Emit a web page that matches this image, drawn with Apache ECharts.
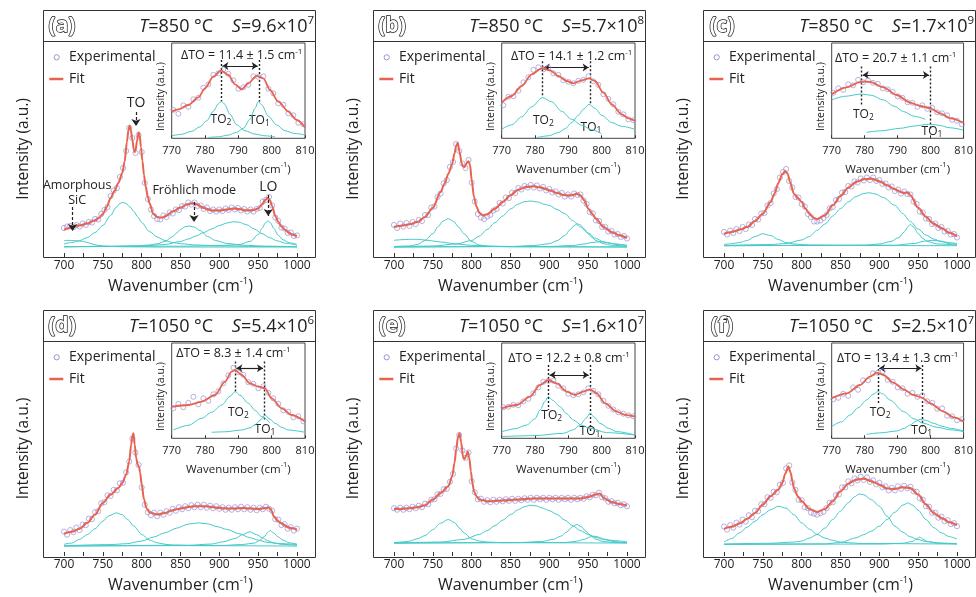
<!DOCTYPE html>
<html><head><meta charset="utf-8">
<script src="https://cdn.jsdelivr.net/npm/echarts@6/dist/echarts.min.js"></script>
<style>html,body{margin:0;padding:0;background:#fff}#c{width:976px;height:597px}</style>
</head><body><div id="c"></div>
<script>
// ---------------- DATA ----------------
const LETTERS = ['a','b','c','d','e','f'];
const TEMPS = ['850','850','850','1050','1050','1050'];
const S_MANT = ['9.6','5.7','1.7','5.4','1.6','2.5'];
const S_EXP = ['7','8','9','6','7','7'];
const DELTA_TO = ['11.4 ± 1.5','14.1 ± 1.2','20.7 ± 1.1','8.3 ± 1.4','12.2 ± 0.8','13.4 ± 1.3'];
const TO2_POS = [784.8, 782.2, 779, 789, 784, 784];
const TO1_POS = [796.2, 796.5, 799.9, 797.8, 796.5, 797.6];

// experimental points (main), wavenumber grid
const EXP_X = [700,704,708,712,716,720,724,728,732,736,740,744,748,752,756,760,764,768,772,776,780,784,788,792,796,800,804,808,812,816,820,824,828,832,836,840,844,848,852,856,860,864,868,872,876,880,884,888,892,896,900,904,908,912,916,920,924,928,932,936,940,944,948,952,956,960,964,968,972,976,980,984,988,992,996,1000];
const EXP_A = [29,30.5,31,29.8,32,30.5,33.5,32,35,34.5, 38,37.5,43,47,50,61,66.5,69,80,89, 106,129,119,104,122,105,74,58,47.5,41, 38,37.5,41.5,40,44.5,43.5,47.5,47,51,50.5, 54.5,52.5,54.5,51,51.5,48,49.5,46,47.5,45.5, 47.5,46,48.5,47,49.5,47.5,49,46.5,48,45.5, 47.5,45.5,48,49,55.5,57,60,51.5,39.5,36, 29.5,28.5,24,24.5,21,21.5];
const EXP_B = [32,29,33.5,30.5,34,31,35,33,37,36, 42,42,49.5,50.5,60,63.5,73.5,77,90,95, 113,106,93.5,89,97,74.5,55.5,43,39.5,38, 40.5,42,46.5,48,54,53.5,59.5,59,64.5,64, 69,67.5,71,69.5,72,69.5,71.5,68.5,70,66.5, 68,64.5,65.5,62.5,64,60.5,62.5,60.5,63.5,62, 62.5,56.5,53,45,43.5,36.5,36,30,30,25.5, 26,22.5,23,20,21,18.5];
const EXP_C = [25,22.5,26.5,24,28,26,30,28,32.5,32, 38,37.5,43.5,44,51.5,54,63.5,68,79.5,85, 88,76,69.5,60,59.5,53,50.5,43,40,35.5, 35.5,36.5,39,42,48.5,50,57,58,64.5,65, 71,70.5,75.5,74.5,78.5,76.5,79.5,77,79.5,76, 77,73,73.5,69.5,70.5,66,67.5,63.5,65.5,63, 62.5,55.5,53,45.5,44.5,38.5,38,33,33.5,29, 30,25.5,26,22.5,23,19.5];
const EXP_D = [24.5,21.5,26,24,28.5,26,31.5,31,37.5,37, 44,45,53,54,61,60.5,66.5,66,73,73.5, 84,95,118,104,91.5,69,51.5,44,41,43.5, 40,43.5,41.5,45,43.5,47.5,45.5,49,47,50, 48,51,49,51.5,49,51.5,48.5,50.5,48,50, 47.5,49,46.5,48.5,46.5,49,47,49.5,47,49, 46.5,48.5,46,48.5,47,49.5,47.5,45.5,37,36.5, 31,32,27.5,29,25.5,27.5];
const EXP_E = [48,46.5,48.5,46.5,48.5,47,49.5,48,50.5,49, 52.5,52,56.5,57,62,62.5,67,67.5,74.5,82.5, 108,121.5,106,98.5,104,75,64,57,57.5,54.5, 56,54,56.5,54.5,56.5,55,57,55.5,57.5,55.5, 57.5,56,58,56.5,58.5,56.5,58.5,57,58.5,56.5, 58.5,57,58.5,56.5,58.5,57,58.5,56.5,58.5,57, 58.5,57.5,60,59,61.5,61,63.5,59,58,54.5, 55,53,53.5,51,52,50];
const EXP_F = [29.5,26.5,31,28.5,33.5,31.5,36.5,34.5,41,39, 45.5,45,52,52,59,58.5,64.5,64,71.5,73.5, 88,91,74,66.5,56.5,56,49,48,43.5,42.5, 41.5,43,44.5,48,53.5,54,61,62,69,69, 75,73,78,76,79.5,76.5,79,74.5,76,72, 73.5,69,70,66,68.5,66,70,67.5,70.5,68, 69.5,65,64.5,58,56.5,50,49.5,43.5,43.5,38.5, 39.5,35,36,32,33,30];

// fitted curves (main)
const FIT_A = [[700,27.3],[705,28.5],[710,30],[715,31],[720,31.5],[730,33.5],[740,36.7],[745,39],[750,43],[755,50],[760,59],[765,66],[770,74],[775,84],[778,95],[781,115],[783,127],[784.5,131.5],[786,127],[788,117],[790,107],[791,105],[792,106],[794,116],[796,124.5],[797.5,122],[799,110],[801,96],[803,82],[805,71],[808,60],[810,54],[815,43],[820,40],[825,39.3],[830,40.5],[840,45.5],[850,49.5],[860,53],[866,53.7],[872,52.3],[880,49],[890,46.5],[900,46.5],[910,47.5],[918,48.5],[925,48],[935,46.5],[943,46.8],[950,48.5],[955,52.5],[959,57],[962.6,59],[965,57],[968,51],[972,41],[976,35],[980,30.5],[985,27],[990,24],[995,22],[1000,20.7]];
const FIT_B = [[700,30],[710,31.3],[720,32.7],[730,35],[740,40],[750,49.3],[760,65],[765,73.3],[770,83.3],[775,93.3],[778,104],[780,111],[782,114],[784.5,105],[787,94],[789,90.5],[791,90],[793.5,94],[796,95.7],[798,91.7],[800,77],[803,60],[806,50.7],[810,44],[815,41.7],[820,42.7],[830,48.3],[840,55],[850,61.7],[860,67.3],[870,70],[880,70.7],[890,69.3],[900,66.7],[910,64],[920,61.7],[928,61.6],[935,63.3],[940,61.7],[945,56.7],[950,48.5],[955,43.3],[960,38.3],[970,30],[980,25],[990,21.7],[1000,19]];
const FIT_C = [[700,23.3],[710,25],[720,27.3],[730,30],[740,36],[750,43.3],[760,55],[765,63.3],[770,74],[775,82.7],[779,86],[782,83.3],[785,75],[790,63.3],[795,59],[800,55],[805,48.3],[810,43.3],[815,39.3],[820,38],[830,41.7],[840,51.7],[850,61],[860,69.3],[870,75],[880,77.7],[890,78.3],[900,75.7],[910,71.7],[920,67.7],[930,64.3],[937,64.3],[940,61.7],[950,49.3],[960,40],[970,33.3],[980,29],[990,24.3],[1000,20.7]];
const FIT_D = [[700,22.3],[710,24.3],[720,27.3],[730,33.3],[740,41.7],[750,53.3],[760,61.7],[770,68.3],[775,73.3],[780,81.7],[784,95],[786.5,112],[788,120.7],[789.5,123.3],[791,112],[793,98],[795,91.5],[796.5,90],[798,84],[800,72],[803,57],[806,48.3],[810,44],[820,41.7],[830,43.3],[840,46],[850,47.7],[860,49.3],[870,50],[880,50],[890,49.3],[900,48.3],[910,47.7],[920,47.7],[930,48.3],[940,47.7],[950,47.3],[960,48.3],[964,48.6],[967,46],[970,40],[975,35.5],[980,32.7],[990,28.3],[1000,26.7]];
const FIT_E = [[700,47.3],[710,47.3],[720,48],[730,49],[740,51],[750,56.7],[760,63.3],[770,70],[775,80],[778,94],[780,106.7],[782.5,120],[784.5,123.3],[786.5,114],[789,99],[791,97.5],[793,101],[795,105],[797,98.3],[799,85],[801,73],[803,65],[806,60],[810,56.7],[820,55],[840,55.7],[860,56.7],[880,57.7],[900,57.7],[920,57.7],[940,57.7],[950,59.3],[960,61.7],[965,62.7],[970,58.3],[980,54.3],[990,52.3],[1000,50.7]];
const FIT_F = [[700,27.3],[710,29.3],[720,32.7],[730,37.3],[740,43.3],[750,51.7],[760,60],[770,66.7],[775,73.3],[779,83],[783,90],[786,83.3],[788,75],[790,68.3],[795,60],[800,55],[810,47.3],[820,44.3],[830,47.3],[840,55],[850,65],[860,72.7],[870,76.7],[880,77.7],[890,75],[900,71.7],[910,67.7],[920,67.3],[930,69],[940,68.3],[950,61.7],[960,51.7],[970,43.3],[980,38.3],[990,34],[1000,31]];

// fitted components (main)
const A_P710 = [[700,16.3],[705,16.6],[710,16.5],[715,16.3],[720,16],[725,15.5],[730,14.5],[735,13.3],[740,12.3],[745,11.5],[750,11],[760,10.5],[780,10.2],[820,10],[1000,10]];
const A_P775 = [[700,13],[710,14.5],[720,16.3],[730,19.5],[740,24.5],[750,31.5],[760,41.5],[767,49.5],[772,53.5],[776,54.7],[780,53.5],[785,50],[790,45.5],[795,40],[800,34.5],[810,25.5],[820,20],[830,16.5],[840,14.5],[850,13.3],[870,12],[900,11.2],[950,10.6],[1000,10.3]];
const A_P862 = [[700,10.2],[760,10.5],[790,11],[810,12],[820,13.3],[830,15.5],[840,20.5],[845,24],[850,27.5],[856,30.3],[862,31],[868,29.8],[875,26.5],[885,20.5],[895,16.5],[910,13.5],[930,11.8],[960,10.8],[1000,10.3]];
const A_P918 = [[700,10.3],[800,11],[830,12.5],[850,15.5],[860,18],[870,21],[880,24.5],[890,28],[900,31.5],[910,34],[918,35.3],[925,34.8],[935,32.3],[945,28],[955,23.3],[965,19.2],[975,16],[985,13.8],[1000,12]];
const A_P963 = [[700,10.3],[850,10.8],[900,11.4],[925,12.4],[940,15.7],[950,22.4],[955,28.6],[959,33.8],[962.6,36.3],[966,34],[970,28.8],[976,21.6],[982,17.2],[990,14.2],[1000,12.4]];
const B_P720 = [[700,16.7],[710,17.3],[720,17.7],[730,17.7],[740,17],[750,16],[760,15],[780,13],[800,11.7],[830,10.7],[870,10.3],[1000,10]];
const B_P770 = [[700,10.5],[720,11],[730,12.5],[740,16.5],[750,23.3],[757,30.5],[763,36],[770,38.3],[777,35.5],[783,30],[790,23.3],[800,15.5],[810,12],[820,10.8],[850,10.2],[1000,10]];
const B_P876 = [[700,10.2],[750,11],[780,13],[800,16.5],[810,21],[820,27.5],[830,34.5],[840,41],[850,48],[860,53],[868,55.3],[876,56],[885,55],[895,52.5],[900,51.5],[910,47.5],[920,43.3],[930,36.5],[940,30],[950,24],[960,18.5],[970,15],[980,13.3],[990,12.3],[1000,11.7]];
const B_P936 = [[700,10],[850,10.5],[880,11.5],[900,13.3],[910,16.3],[920,21.5],[927,27.5],[932,31.5],[936,33.3],[940,32],[945,28],[950,23.3],[955,19.5],[960,16.5],[970,13.3],[980,11.7],[1000,10.7]];
const B_P965 = [[700,10],[900,10.5],[930,11.5],[945,13],[955,14.5],[965,15.3],[975,14.5],[985,13],[1000,11.5]];
const C_P750 = [[700,12.5],[710,13.3],[720,14.5],[730,16.5],[740,20.5],[750,23.3],[760,21.5],[770,17.5],[780,14.5],[790,13],[810,12],[850,11.5],[1000,11.3]];
const C_P887 = [[700,11.5],[760,12.5],[780,13.5],[800,17],[810,20.5],[820,26.7],[830,33],[840,41],[850,48.3],[860,55],[870,60.5],[880,63.5],[887,64.3],[895,63],[905,59.5],[920,51.7],[930,43.5],[940,35.5],[950,28],[960,22],[970,18],[980,15.3],[990,13.5],[1000,12.5]];
const C_P940 = [[700,11.3],[880,11.8],[900,13],[915,15.5],[925,19.5],[932,25],[937,30.5],[940,32.7],[944,30],[950,23.5],[956,18.5],[962,15.5],[975,13],[1000,12]];
const C_P968 = [[700,11.3],[920,11.8],[945,13.5],[958,15.8],[968,16.7],[978,16],[990,14.3],[1000,13.5]];
const D_P768 = [[700,11.7],[710,13],[720,16.7],[730,21.5],[740,27.5],[750,35],[758,40.5],[767.6,43.3],[775,41.5],[782,36.5],[790,30],[800,21.7],[810,16],[820,13.3],[830,11.8],[840,11],[870,10.4],[1000,10]];
const D_P873 = [[700,10.3],[760,11.5],[780,12.3],[800,15],[815,19],[830,23.3],[845,28],[860,32],[873,33.3],[885,32.3],[897,29.5],[910,26.7],[925,22.5],[940,18.3],[950,16],[960,14],[975,12.5],[1000,11.7]];
const D_P939 = [[700,10],[860,10.8],[890,12],[905,14.3],[920,17.5],[930,21.5],[939,24.3],[948,21.5],[955,18.5],[962,15.5],[970,13.3],[980,11.7],[1000,10.7]];
const D_P966 = [[700,10],[900,10.5],[930,11.5],[945,13],[952,15.5],[958,19.5],[962,23.5],[965.6,25.7],[970,23],[976,19],[982,16],[990,13.3],[1000,11.7]];
const E_P770 = [[700,13.3],[710,14],[720,15],[730,17.3],[740,20.5],[750,26.5],[760,33],[770,36.7],[778,33.5],[785,27.5],[790,23.3],[800,17.3],[810,15],[820,14],[840,13.4],[1000,13]];
const E_P875 = [[700,13],[760,14],[790,16.7],[810,21.7],[820,25.5],[830,30.5],[840,36],[850,41.5],[860,46.5],[868,49.5],[875,51],[883,50.3],[892,48],[900,45.5],[910,41.7],[920,36],[930,30.5],[940,25.5],[950,21.7],[960,18.5],[970,16.7],[985,15.3],[1000,14.3]];
const E_P936 = [[700,13],[860,13.5],[890,14.5],[905,16.7],[915,20],[922,24],[930,29.5],[935.5,31.7],[941,29.5],[947,25],[952,21],[960,16.7],[970,14.5],[985,13.5],[1000,13.2]];
const E_P957 = [[700,13],[920,13.5],[935,14.8],[945,16.7],[952,19],[957,20],[963,19],[970,17],[980,15],[990,14],[1000,13.5]];
const F_P770 = [[700,14],[710,17.5],[720,23.3],[730,29],[740,35],[750,41.5],[760,46.5],[770,50],[780,48],[790,41.5],[800,33.3],[810,27],[820,21.7],[830,18],[840,15.7],[850,14],[860,13.3],[880,12.5],[1000,12]];
const F_P874 = [[700,12],[760,12.8],[790,14],[800,15],[810,18],[820,21.7],[830,28],[840,36.7],[850,45],[860,53.5],[868,59.5],[874,62.3],[880,61.5],[890,56.5],[900,50],[910,40],[920,30],[930,24],[940,19.3],[950,16.5],[960,14.5],[980,13],[1000,12.3]];
const F_P937 = [[700,11.7],[830,12.2],[850,13.5],[870,18.3],[880,21.5],[890,25],[900,30],[910,36.7],[920,44],[930,51],[936.6,53.3],[943,51],[950,46],[960,36.7],[970,28.5],[980,23.3],[990,19.5],[1000,17]];
const F_P952 = [[700,11.7],[900,12],[930,12.8],[942,14.5],[948,17],[952,19],[956,17],[962,14.5],[975,12.8],[1000,12.2]];

// insets
const IEXP_X = [770.5,772,773.5,775,776.5,778,779.5,781,782.5,784,785.5,787,788.5,790,791.5,793,794.5,796,797.5,799,800.5,802,803.5,805,806.5,808,809.5];
const IEXP_A = [28.5,24.5,33,31.5,39,40.5,50.5,54,63.5,65, 69,64.5,58,49.5,51,53.5,62,61.5,62,49.5, 45,35,33.5,25,23,15.5,14];
const IEXP_B = [33,41.5,42,47.5,56,61,68.5,71,69,70.5, 65,63.5,58,56.5,55,57.5,58.5,62,57,53.5, 44,39.5,34,26.5,24,19,18];
const IEXP_C = [45.5,50,48.5,54,53,58.5,56,58,55.5,54.5, 50,49,46.5,42,40.5,36,35.5,31.5,33,29.5, 30.5,26,25,23,18.5,17.5,14];
const IEXP_D = [30,34.5,31,35.5,41.5,34,40,37.5,44,47, 55,63,70.5,66,63.5,56,54.5,50,52,45.5, 40,34.5,28,26.5,21,22,17];
const IEXP_E = [31,31.5,33.5,33,37,39.5,45,51,56.5,57.5, 57.5,52.5,50,44.5,43,44,46,50,47.5,44, 37.5,32.5,29,26,24.5,23,22];
const IEXP_F = [39,40.5,44.5,42.5,51,48.5,58,58,65,65.5, 67,58.5,56.5,51,50,44.5,45.5,41.5,43,37, 35.5,29.5,30,22.5,22,18,19];

const IFIT_A = [[770,26.7],[772,29],[775,33.3],[778,41],[780,50],[782.5,61.7],[784.8,67.7],[787,63.3],[789,54],[791,49],[793,55],[795.5,62.5],[797.5,60],[799.5,48.3],[802,36.7],[805,26.7],[807.5,18.3],[810,11]];
const IFIT_B = [[770,35.7],[773,42.3],[776,52.3],[779,64],[782,70],[784.5,68],[787,62.3],[789.5,57.3],[791.5,55],[794,58],[796.2,60],[798,57.3],[800.5,45.7],[803,34],[806,24],[808,20],[810,17.3]];
const IFIT_C = [[770,44],[774.5,51],[778.6,56.2],[780,56.7],[781.6,56.5],[785.7,51],[789.7,43.3],[793.8,35.7],[796.8,32.3],[799.9,30],[802.9,25],[806,20],[809.8,15.7]];
const IFIT_D = [[770,31.5],[775,33.3],[779,36.7],[783,43.3],[786,56.7],[788,66.7],[789,68.3],[791,63.3],[793.5,55],[796,51.7],[798,50],[800,40],[803,30],[806,23.3],[810,16.7]];
const IFIT_E = [[770,30],[774.5,33.3],[778.5,41.7],[781.5,53.3],[784,58.3],[786.5,55],[789.5,46.7],[792,43.3],[794.5,46.7],[796.5,49],[798.5,45],[801,35],[804.5,26.7],[807,23.5],[810,21.7]];
const IFIT_F = [[770,40],[774.6,45],[778.6,53.3],[781.6,61.7],[783.7,65.7],[785.7,63.3],[788.7,55.7],[791.8,49],[794.8,43.3],[797.3,40.7],[799.9,35],[803.9,26.7],[807,21],[810,16.7]];

const ITO2_A = [[770,2.5],[773,4],[776,7],[778.5,11.5],[780.5,17.5],[782.5,27],[784,34.5],[784.8,36.7],[785.8,34.5],[787.5,24],[789.5,13.5],[792,7.5],[795,4.2],[798,2.5],[801,1.5]];
const ITO1_A = [[781,0.8],[784,1.5],[787,3.2],[789.5,6],[791.5,10],[793.5,19],[795,30],[796,36.7],[797,33.5],[799,22],[801.5,13.3],[804,7.5],[807,4.8],[810,3.3]];
const ITO2_B = [[770,9],[773,13.5],[776,21.5],[779,31.5],[782.2,40.7],[785,36.5],[788,27],[791,19],[794,13],[797,8.5],[800,4.5]];
const ITO1_B = [[780.5,0.7],[784,2.5],[787,5.7],[789,9.5],[791,15.7],[793,23],[794.5,29],[796.2,34],[798,30],[800,23],[803,15.7],[806,12],[810,9]];
const ITO2_C = [[770,38.3],[774,42],[779,44.3],[782,43],[785.7,38.3],[789,32],[791.8,26.7],[795,22],[798.4,19]];
const ITO1_C = [[780.6,6],[785,7.5],[790.8,10],[795,12.3],[799.4,14],[802,13.3],[806,10.5],[809.8,8.3]];
const ITO2_D = [[770.5,8.3],[775,13],[779,20],[782,26],[785,33.3],[787.5,42],[789,46.7],[790.5,43],[793,35],[795,28],[797,21.7],[799.5,15.5]];
const ITO1_D = [[782,6],[786,6.5],[791,8.3],[793.5,10.5],[795,13.3],[796.5,18],[798,23.3],[799.5,19],[801,15],[803,11],[805,8.3],[810,6]];
const ITO2_E = [[770,6.5],[774,9.5],[777.5,13.3],[780,19.5],[781.5,28.3],[783,37],[784,41.7],[785.3,38],[787.5,31.7],[789.5,24.5],[791.5,18.3],[794,13],[796.5,10],[801.5,5.7],[810,3.3]];
const ITO1_E = [[770,1.7],[780,2.7],[788.5,5],[791.5,8.5],[793.5,13.3],[795.3,20],[796.5,25],[797.8,21],[799.5,15],[802,10],[804.5,6.7],[810,3.3]];
const ITO2_F = [[770,11.7],[773,16.5],[775.6,23.3],[778,30.5],[780.6,38.3],[782.5,44],[784,46.7],[785.5,44.5],[787.7,38.3],[791.8,26.7],[795,19.5],[797.8,15],[802,11],[806,8.5],[810,6.7]];
const ITO1_F = [[780.6,4],[785,5.5],[789.7,7.3],[792,10],[793.8,13.3],[795.5,17],[796.8,19],[798.5,18],[800.9,15],[803.5,12],[806,10],[810,7.3]];

// ---------------- ASSEMBLY ----------------
const EXPS = [EXP_A, EXP_B, EXP_C, EXP_D, EXP_E, EXP_F];
const FITS = [FIT_A, FIT_B, FIT_C, FIT_D, FIT_E, FIT_F];
const COMPS = [[A_P710, A_P775, A_P862, A_P918, A_P963],[B_P720, B_P770, B_P876, B_P936, B_P965],[C_P750, C_P887, C_P940, C_P968],[D_P768, D_P873, D_P939, D_P966],[E_P770, E_P875, E_P936, E_P957],[F_P770, F_P874, F_P937, F_P952]];
const IEXPS = [IEXP_A, IEXP_B, IEXP_C, IEXP_D, IEXP_E, IEXP_F];
const IFITS = [IFIT_A, IFIT_B, IFIT_C, IFIT_D, IFIT_E, IFIT_F];
const ITO2S = [ITO2_A, ITO2_B, ITO2_C, ITO2_D, ITO2_E, ITO2_F];
const ITO1S = [ITO1_A, ITO1_B, ITO1_C, ITO1_D, ITO1_E, ITO1_F];

// annotation placement (data coordinates of the insets)
const DASH_TOP = [78.3, 77, 71.7, 76.7, 73.3, 73.3];
const TO2_BOTTOM = [36.7, 40.7, 31.7, 45, 28.3, 35];
const TO1_BOTTOM = [36.7, 34, 8.3, 18.3, 6.7, 11.7];
const ARROW_Y = [72.3, 70.7, 63.3, 70, 63.3, 70];
const DTO_POS = [[791,83.3],[791,82.3],[789.4,80],[788.5,85],[790.2,80],[790,80]];
const TO2_LABEL = [[784.8,19],[782.5,18],[779.6,24],[790,25.5],[785,22.5],[784.7,25.5]];
const TO1_LABEL = [[796.3,17.5],[796.8,11],[800.4,6.5],[798,9],[796.5,6.5],[797.3,7.5]];
// annotations of panel (a) main plot
const A_ARROWS = [[792.7,145,131],[711,50,26],[867.4,55,35],[963,62,41]];
const A_LABELS = [['TO',792.7,153.5,14],['Amorphous\nSiC',717,64.2,12.5],['Fröhlich mode',867.7,66.3,12.5],['LO',963,70.3,14]];

const ORIGINS = [[43,10],[373,10],[703,10],[43,310],[373,310],[703,310]];
const FONT = "'Open Sans', 'Noto Sans', sans-serif";
const INK = '#222';
const FRAME = '#333';
const COL_FIT = '#e8634f';
const COL_COMP = '#45c9c9';
const COL_EXP = '#9c92d2';

const supRich = (fs) => ({sup:{fontSize:fs, verticalAlign:'top', lineHeight:fs, fontFamily:FONT, color:INK}});
const plainNum = (v) => String(v);

const grid=[], xAxis=[], yAxis=[], series=[], graphic=[];

LETTERS.forEach((L,i)=>{
  const [ox,oy] = ORIGINS[i];
  const gm = i*2, gi = i*2+1;
  grid.push({left:ox+21, top:oy+31, width:233, height:216});
  grid.push({left:ox+128.7, top:oy+33, width:133.3, height:95.3, show:true, borderColor:'#444', borderWidth:1, backgroundColor:'#fff'});
  xAxis.push({gridIndex:gm, type:'value', min:700, max:1000, interval:50,
    axisLine:{show:false}, splitLine:{show:false},
    axisTick:{show:true, inside:true, length:4, lineStyle:{color:FRAME}},
    minorTick:{show:true, splitNumber:2, length:4, lineStyle:{color:FRAME}},
    axisLabel:{fontSize:12, color:INK, margin:3, fontFamily:FONT, formatter:plainNum},
    name:'Wavenumber (cm{sup|-1})', nameLocation:'middle', nameGap:19,
    nameTextStyle:{fontSize:16, color:INK, fontFamily:FONT, lineHeight:21, rich:supRich(9.5)}});
  yAxis.push({gridIndex:gm, type:'value', min:0, max:216,
    axisLine:{show:false}, axisTick:{show:false}, axisLabel:{show:false}, splitLine:{show:false},
    name:'Intensity (a.u.)', nameLocation:'middle', nameGap:32,
    nameTextStyle:{fontSize:15.5, color:INK, fontFamily:FONT}});
  xAxis.push({gridIndex:gi, type:'value', min:770, max:810, interval:10,
    axisLine:{show:false}, splitLine:{show:false},
    axisTick:{show:true, inside:true, length:3, lineStyle:{color:FRAME}},
    axisLabel:{fontSize:11, color:INK, margin:7, fontFamily:FONT, formatter:plainNum},
    name:'Wavenumber (cm{sup|-1})', nameLocation:'middle', nameGap:23,
    nameTextStyle:{fontSize:11.5, color:INK, fontFamily:FONT, lineHeight:16, rich:supRich(7.5)}});
  yAxis.push({gridIndex:gi, type:'value', min:0, max:95.3,
    axisLine:{show:false}, axisTick:{show:false}, axisLabel:{show:false}, splitLine:{show:false},
    name:'Intensity (a.u.)', nameLocation:'middle', nameGap:5,
    nameTextStyle:{fontSize:10.5, color:INK, fontFamily:FONT, padding:[0,12,0,0]}});

  // main plot
  COMPS[i].forEach(c=>series.push({type:'line', xAxisIndex:gm, yAxisIndex:gm, data:c, smooth:0.3, smoothMonotone:'x', symbol:'none', lineStyle:{color:COL_COMP, width:1}, z:2, silent:true}));
  series.push({type:'scatter', xAxisIndex:gm, yAxisIndex:gm, data:EXP_X.map((x,j)=>[x,EXPS[i][j]]), symbol:'circle', symbolSize:5.2,
    itemStyle:{color:'rgba(255,255,255,0)', borderColor:COL_EXP, borderWidth:0.9, opacity:0.8}, z:3, silent:true});
  const fit = {type:'line', xAxisIndex:gm, yAxisIndex:gm, data:FITS[i], smooth:0.3, smoothMonotone:'x', symbol:'none', lineStyle:{color:COL_FIT, width:2}, z:4, silent:true};
  if (i===0){
    fit.markLine = {silent:true, symbol:['none','arrow'], symbolSize:7, label:{show:false},
      lineStyle:{type:[3,2], color:INK, width:1.2},
      data:A_ARROWS.map(a=>[{coord:[a[0],a[1]]},{coord:[a[0],a[2]]}])};
    fit.markPoint = {silent:true, symbol:'circle', symbolSize:0,
      data:A_LABELS.map(l=>({coord:[l[1],l[2]], label:{show:true, position:'inside', formatter:l[0], fontSize:l[3], color:INK, fontFamily:FONT, lineHeight:14.5}}))};
  }
  series.push(fit);

  // inset
  series.push({type:'line', xAxisIndex:gi, yAxisIndex:gi, data:ITO2S[i], smooth:0.3, smoothMonotone:'x', symbol:'none', lineStyle:{color:COL_COMP, width:1}, z:5, silent:true,
    markLine:{silent:true, symbol:'none', label:{show:false}, lineStyle:{type:[2,2], color:INK, width:1.4},
      data:[[{coord:[TO2_POS[i],DASH_TOP[i]]},{coord:[TO2_POS[i],TO2_BOTTOM[i]]}],[{coord:[TO1_POS[i],DASH_TOP[i]]},{coord:[TO1_POS[i],TO1_BOTTOM[i]]}]]}});
  series.push({type:'line', xAxisIndex:gi, yAxisIndex:gi, data:ITO1S[i], smooth:0.3, smoothMonotone:'x', symbol:'none', lineStyle:{color:COL_COMP, width:1}, z:5, silent:true,
    markLine:{silent:true, symbol:['arrow','arrow'], symbolSize:6, label:{show:false}, lineStyle:{type:'solid', color:INK, width:1.2},
      data:[[{coord:[TO2_POS[i]+0.4,ARROW_Y[i]]},{coord:[TO1_POS[i]-0.4,ARROW_Y[i]]}]]}});
  series.push({type:'scatter', xAxisIndex:gi, yAxisIndex:gi, data:IEXP_X.map((x,j)=>[x,IEXPS[i][j]]), symbol:'circle', symbolSize:5,
    itemStyle:{color:'rgba(255,255,255,0)', borderColor:COL_EXP, borderWidth:0.9, opacity:0.8}, z:6, silent:true});
  const lab = {show:true, position:'inside', color:INK, fontFamily:FONT, fontSize:12, lineHeight:15,
    rich:{sup:{fontSize:8, verticalAlign:'top', lineHeight:8, fontFamily:FONT, color:INK}, sub:{fontSize:8.5, verticalAlign:'bottom', lineHeight:8, fontFamily:FONT, color:INK}}};
  series.push({type:'line', xAxisIndex:gi, yAxisIndex:gi, data:IFITS[i], smooth:0.3, smoothMonotone:'x', symbol:'none', lineStyle:{color:COL_FIT, width:1.8}, z:7, silent:true,
    markPoint:{silent:true, symbol:'circle', symbolSize:0, data:[
      {coord:DTO_POS[i], label:Object.assign({}, lab, {formatter:'ΔTO = '+DELTA_TO[i]+' cm{sup|-1}', fontSize:12.5})},
      {coord:TO2_LABEL[i], label:Object.assign({}, lab, {formatter:'TO{sub|2}'})},
      {coord:TO1_LABEL[i], label:Object.assign({}, lab, {formatter:'TO{sub|1}'})}
    ]}});

  // frame + title bar + legend
  graphic.push({type:'rect', silent:true, z:50, shape:{x:ox+0.5, y:oy+0.5, width:272, height:247}, style:{fill:'none', stroke:FRAME, lineWidth:1}});
  graphic.push({type:'line', silent:true, z:50, shape:{x1:ox, y1:oy+31.5, x2:ox+273, y2:oy+31.5}, style:{stroke:FRAME, lineWidth:1}});
  graphic.push({type:'text', silent:true, z:50, x:ox+19, y:oy+16.5, style:{text:'('+L+')', font:'bold 21px '+FONT, fill:'#fff', stroke:'#111', lineWidth:1.4, align:'center', verticalAlign:'middle'}});
  graphic.push({type:'text', silent:true, z:50, x:ox+271, y:oy+16.5, style:{
    text:'{i|T}=' + TEMPS[i] + ' °C    {i|S}=' + S_MANT[i] + '×10{sup|' + S_EXP[i] + '}',
    font:'18px '+FONT, fill:INK, align:'right', verticalAlign:'middle', lineHeight:23,
    rich:{i:{fontStyle:'italic', fontSize:18, fontFamily:FONT, fill:INK, lineHeight:23}, sup:{fontSize:11.5, fontFamily:FONT, fill:INK, verticalAlign:'top', lineHeight:12}}}});
  graphic.push({type:'circle', silent:true, z:50, shape:{cx:ox+13.7, cy:oy+47.3, r:2.6}, style:{fill:'none', stroke:COL_EXP, lineWidth:1}});
  graphic.push({type:'text', silent:true, z:50, x:ox+26, y:oy+47.5, style:{text:'Experimental', font:'14px '+FONT, fill:INK, verticalAlign:'middle'}});
  graphic.push({type:'line', silent:true, z:50, shape:{x1:ox+6.3, y1:oy+69, x2:ox+20.3, y2:oy+69}, style:{stroke:COL_FIT, lineWidth:2.5}});
  graphic.push({type:'text', silent:true, z:50, x:ox+26, y:oy+69, style:{text:'Fit', font:'14px '+FONT, fill:INK, verticalAlign:'middle'}});
});

const chart = echarts.init(document.getElementById('c'), null, {renderer:'canvas'});
chart.setOption({animation:false, backgroundColor:'#fff', textStyle:{fontFamily:FONT}, grid, xAxis, yAxis, series, graphic});
</script></body></html>
